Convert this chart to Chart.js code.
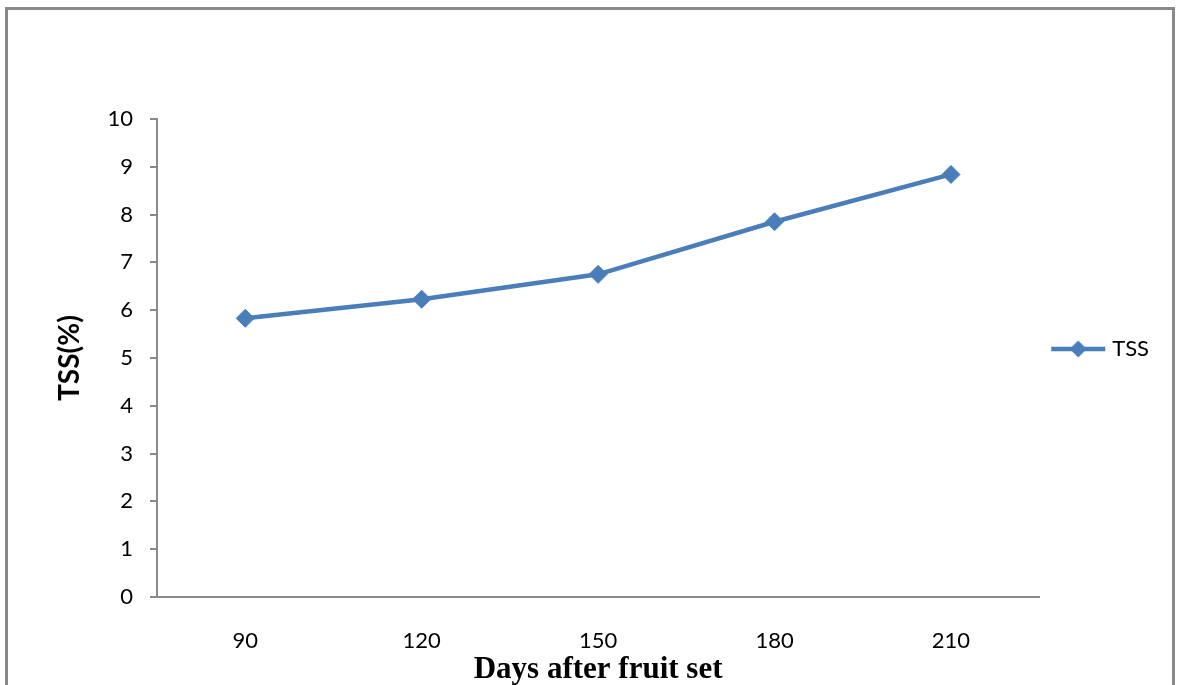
<!DOCTYPE html>
<html lang="en">
<head>
  <meta charset="UTF-8" />
  <title>TSS (%) - Days after fruit set</title>
  <script src="https://cdn.jsdelivr.net/npm/chart.js"></script>
  <style>
    body {
      margin: 0;
      background: #fff;
      overflow: hidden;
    }
    .frame {
      position: absolute;
      left: 5px;
      top: 7px;
      width: 1164px;
      height: 720px;
      border: 3px solid #898989;
    }
    .chart-box {
      position: absolute;
      left: 0;
      top: 0;
      width: 1181px;
      height: 685px;
    }
  </style>
</head>
<body>
  <div class="frame"></div>
  <div class="chart-box">
    <canvas id="tssChart"></canvas>
  </div>

  <script>
    // data
    const days = ['90', '120', '150', '180', '210'];
    const tss = [5.83, 6.23, 6.75, 7.85, 8.84];
    const yTicks = [0, 1, 2, 3, 4, 5, 6, 7, 8, 9, 10];

    const blue = '#4A7EBB';
    const axisGrey = '#898989';

    // legend symbol: line with a diamond on it
    function legendSymbol() {
      const c = document.createElement('canvas');
      c.width = 56;
      c.height = 20;
      const g = c.getContext('2d');
      g.strokeStyle = blue;
      g.lineWidth = 4.5;
      g.beginPath();
      g.moveTo(1, 10);
      g.lineTo(55, 10);
      g.stroke();
      g.fillStyle = blue;
      g.beginPath();
      g.moveTo(28, 1.5);
      g.lineTo(36.5, 10);
      g.lineTo(28, 18.5);
      g.lineTo(19.5, 10);
      g.closePath();
      g.fill();
      return c;
    }

    const symbol = legendSymbol();

    // nudge the legend box a little, the way the original sits
    const legendNudge = {
      id: 'legendNudge',
      afterLayout(chart) {
        const lg = chart.legend;
        lg.left += 6; lg.right += 6;
        lg.top -= 9; lg.bottom -= 9;
      }
    };

    new Chart(document.getElementById('tssChart'), {
      type: 'line',
      data: {
        labels: days,
        datasets: [{
          label: 'TSS',
          data: tss,
          borderColor: blue,
          backgroundColor: blue,
          borderWidth: 4.5,
          tension: 0,
          pointStyle: 'rectRot',
          pointRadius: 9,
          pointHoverRadius: 9,
          pointBorderWidth: 1,
          pointBackgroundColor: blue,
          pointBorderColor: blue
        }]
      },
      plugins: [legendNudge],
      options: {
        responsive: true,
        maintainAspectRatio: false,
        animation: false,
        layout: {
          padding: { top: 119, right: 28, bottom: 0, left: 0 }
        },
        plugins: {
          legend: {
            position: 'right',
            fullSize: false,
            labels: {
              color: '#000',
              font: { family: 'Lato', size: 22 },
              usePointStyle: true,
              pointStyleWidth: 46,
              padding: 10,
              generateLabels: chart => chart.data.datasets.map((ds, i) => ({
                text: ds.label,
                pointStyle: symbol,
                fillStyle: blue,
                strokeStyle: blue,
                lineWidth: 0,
                fontColor: '#000',
                datasetIndex: i
              }))
            }
          },
          tooltip: { enabled: false }
        },
        scales: {
          x: {
            offset: true,
            grid: { display: false },
            border: { display: true, color: axisGrey, width: 2 },
            ticks: {
              color: '#000',
              font: { family: 'Lato', size: 22 },
              padding: 23,
              maxRotation: 0
            },
            title: {
              display: true,
              text: 'Days after fruit set',
              color: '#000',
              font: { family: 'Liberation Serif', size: 31, weight: 'bold', lineHeight: 1 },
              padding: { top: 0, bottom: 0 }
            },
            afterFit: scale => { scale.height = 88; }
          },
          y: {
            min: 0,
            max: 10,
            afterBuildTicks: scale => {
              scale.ticks = yTicks.map(v => ({ value: v }));
            },
            grid: {
              display: true,
              drawOnChartArea: false,
              drawTicks: true,
              tickLength: 7,
              color: axisGrey,
              lineWidth: 2
            },
            border: { display: true, color: axisGrey, width: 2 },
            ticks: {
              color: '#000',
              font: { family: 'Lato', size: 22 },
              padding: 17
            },
            title: {
              display: true,
              text: 'TSS(%)',
              color: '#000',
              font: { family: 'Lato', size: 28, weight: 'bold', lineHeight: 1.2 },
              padding: { top: 53, bottom: 0 }
            },
            afterFit: scale => { scale.width = 157; }
          }
        }
      }
    });
  </script>
</body>
</html>
